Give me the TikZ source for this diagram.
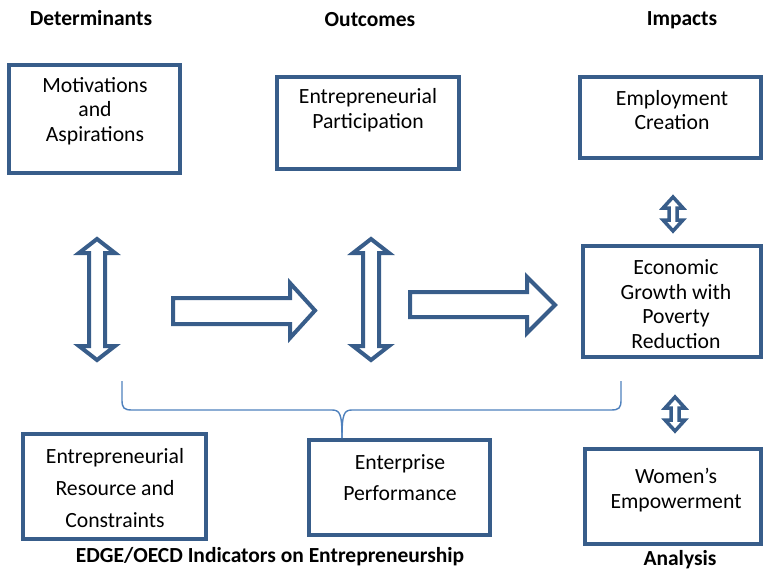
\documentclass[tikz,border=0pt]{standalone}
\usepackage{fontspec}
\setmainfont{Carlito}
\usepackage{tikz}
\usetikzlibrary{positioning, shapes}

\definecolor{boxblue}{RGB}{56,93,138}
\definecolor{braceblue}{RGB}{79,129,189}

\tikzset{
  box/.style={rectangle, draw=boxblue, line width=4pt, inner sep=0pt},
  txt/.style={align=center, inner sep=0pt, font=\fontsize{21.7}{24.5}\selectfont},
  head/.style={inner sep=0pt, anchor=base, font=\fontsize{21.5}{24.5}\selectfont\bfseries},
  blockarrow/.style={draw=boxblue, line width=4pt, line join=miter, fill=white},
  smallarrow/.style={draw=boxblue, line width=3.5pt, line join=miter, fill=white},
  brace/.style={draw=braceblue, line width=1.4pt}
}

\begin{document}
\begin{tikzpicture}[x=1pt, y=-1pt]
  \useasboundingbox (0,0) rectangle (763,570);

  % column headings
  \node[head] (determinants) at (91,25) {Determinants};
  \node[head] (outcomes) at (370,26) {Outcomes};
  \node[head] (impacts) at (682,25) {Impacts};

  % boxes
  \node[box, minimum width=171pt, minimum height=108pt] (motiv) at (94.5,119) {};
  \node[txt] (motivtxt) at (95,111) {Motivations\\and\\Aspirations};

  \node[box, minimum width=182pt, minimum height=92pt] (partic) at (368,123) {};
  \node[txt] (partictxt) at (368,110) {Entrepreneurial\\Participation};

  \node[box, minimum width=181pt, minimum height=81pt] (employ) at (670.5,117.5) {};
  \node[txt] (employtxt) at (672,110) {Employment\\Creation};

  \node[box, minimum width=178pt, minimum height=111pt] (growth) at (672,301.5) {};
  \node[txt] (growthtxt) at (676,304) {Economic\\Growth with\\Poverty\\Reduction};

  \node[box, minimum width=183pt, minimum height=105pt] (resource) at (114.5,486.5) {};
  \node[txt] (resourcetxt) at (115,488) {Entrepreneurial\\[7.5pt]Resource and\\[7.5pt]Constraints};

  \node[box, minimum width=181pt, minimum height=95pt] (perform) at (399.5,487.5) {};
  \node[txt] (performtxt) at (400,478) {Enterprise\\[6.5pt]Performance};

  \node[box, minimum width=176pt, minimum height=95pt] (women) at (673,496.5) {};
  \node[txt] (womentxt) at (676,490) {Women’s\\Empowerment};

  % bottom captions
  \node[head] (edge) at (270,562) {EDGE/OECD Indicators on Entrepreneurship};
  \node[head] (analysis) at (680,565) {Analysis};

  % vertical double arrows
  \draw[blockarrow] (97,239) -- (115,253) -- (105,253) -- (105,346) -- (115,346) -- (97,360)
    -- (79,346) -- (89,346) -- (89,253) -- (79,253) -- cycle;
  \draw[blockarrow] (371,239) -- (389,253) -- (379,253) -- (379,346) -- (389,346) -- (371,360)
    -- (353,346) -- (363,346) -- (363,253) -- (353,253) -- cycle;

  % right arrows
  \draw[blockarrow] (173,298) -- (290,298) -- (290,283) -- (315,310.5) -- (290,338)
    -- (290,324) -- (173,324) -- cycle;
  \draw[blockarrow] (410,292) -- (527,292) -- (527,277) -- (555,305) -- (527,333)
    -- (527,317) -- (410,317) -- cycle;

  % small double arrows
  \draw[smallarrow] (673,197) -- (683,208) -- (677,208) -- (677,220) -- (683,220) -- (673,231)
    -- (663,220) -- (669,220) -- (669,208) -- (663,208) -- cycle;
  \draw[smallarrow] (675,397) -- (685,408) -- (679,408) -- (679,420) -- (685,420) -- (675,431)
    -- (665,420) -- (671,420) -- (671,408) -- (665,408) -- cycle;

  % brace
  \draw[brace] (122,381) -- (122,400) .. controls (122,408) and (124,410) .. (132,410)
    -- (332,410) .. controls (340,410) and (342,414) .. (342,438);
  \draw[brace] (621,381) -- (621,400) .. controls (621,408) and (619,410) .. (611,410)
    -- (352,410) .. controls (344,410) and (342,414) .. (342,438);
\end{tikzpicture}
\end{document}
